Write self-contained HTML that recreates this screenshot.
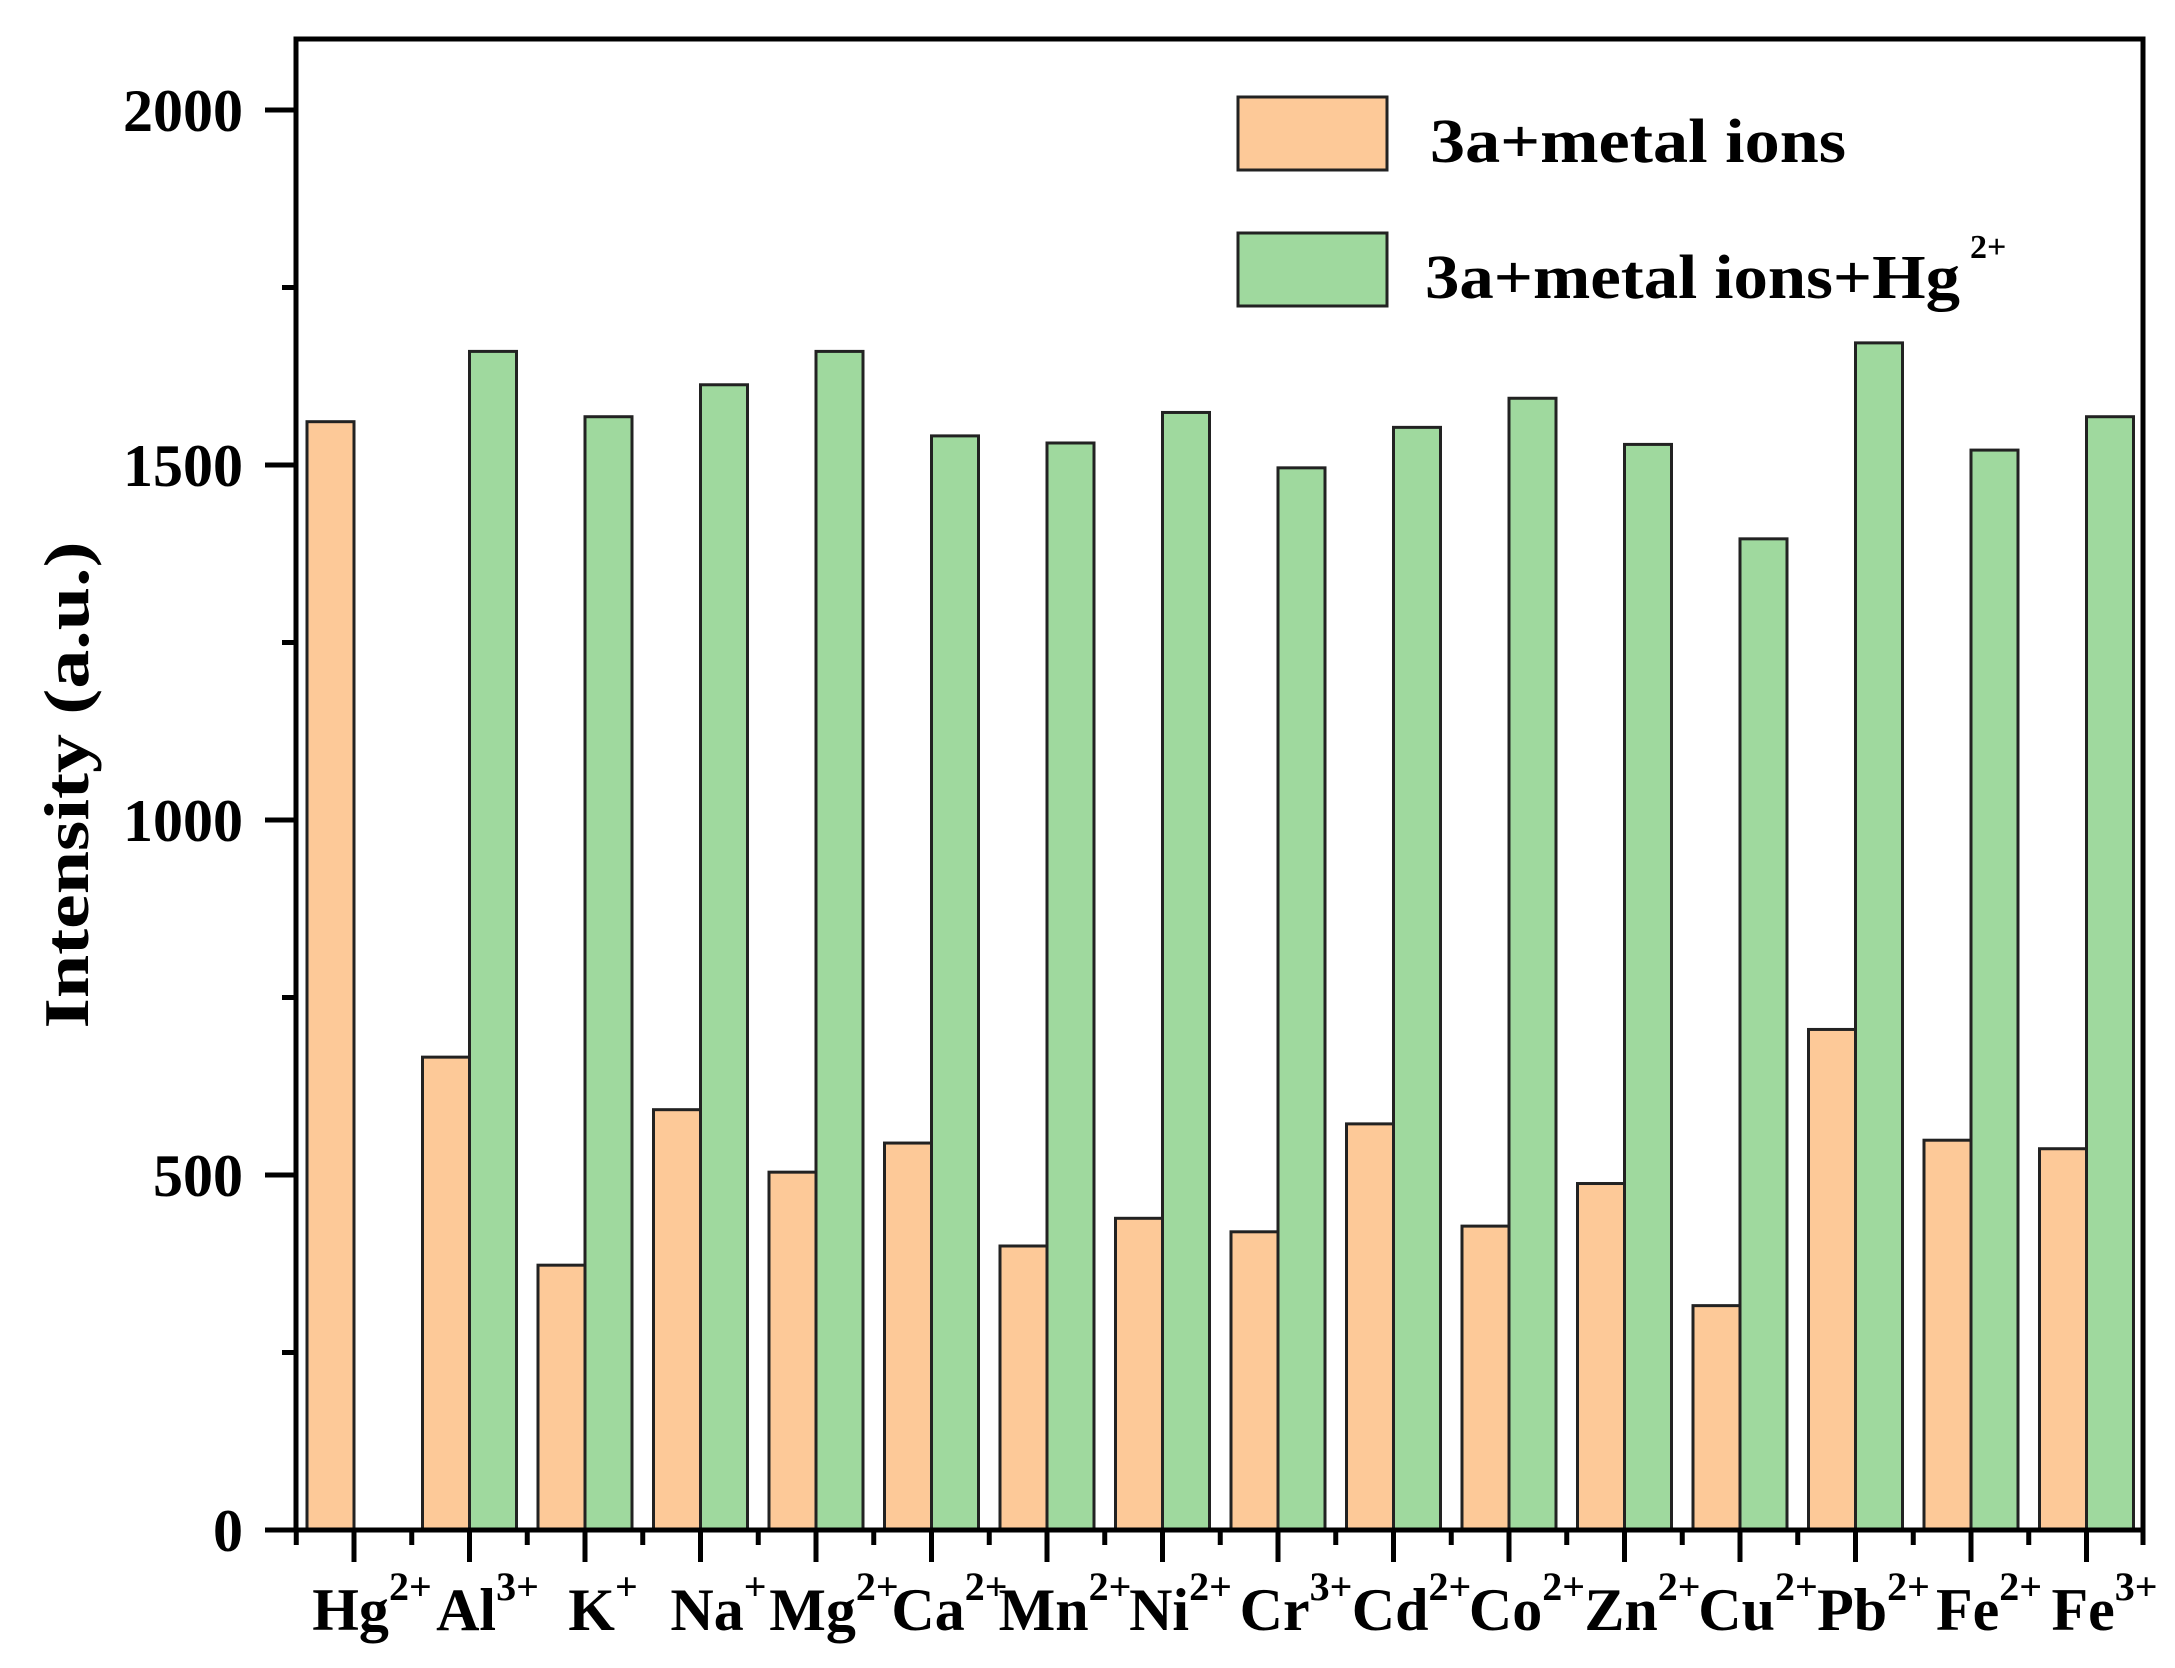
<!DOCTYPE html>
<html><head><meta charset="utf-8"><style>
html,body{margin:0;padding:0;background:#fff;}
svg{display:block;}
text{font-family:"Liberation Serif",serif;font-weight:bold;fill:#000;}
</style></head><body>
<svg width="2175" height="1668" viewBox="0 0 2175 1668" xmlns="http://www.w3.org/2000/svg">
<g id="bars" stroke="#222" stroke-width="3"></g>
<rect x="296" y="39" width="1847" height="1491" fill="none" stroke="#000" stroke-width="5"/>
<g id="ticks" stroke="#000" stroke-width="5"></g>
<g font-size="60" text-anchor="end">
<text x="243" y="131">2000</text>
<text x="243" y="486">1500</text>
<text x="243" y="841">1000</text>
<text x="243" y="1196">500</text>
<text x="243" y="1551">0</text>
</g>
<text transform="translate(88,785) rotate(-90)" font-size="64" text-anchor="middle" textLength="487" lengthAdjust="spacingAndGlyphs">Intensity (a.u.)</text>
<rect x="1238" y="97" width="149" height="73" fill="#FDC998" stroke="#222" stroke-width="3"/>
<rect x="1238" y="233" width="149" height="73" fill="#9FD99E" stroke="#222" stroke-width="3"/>
<text x="1430" y="162" font-size="62" textLength="416" lengthAdjust="spacingAndGlyphs">3a+metal ions</text>
<text x="1425" y="298" font-size="62" textLength="535" lengthAdjust="spacingAndGlyphs">3a+metal ions+Hg</text>
<text x="1970" y="258" font-size="34">2+</text>
<g id="xl" font-size="60" text-anchor="middle"></g>
</svg>
<script>
var ns="http://www.w3.org/2000/svg";
var o=[1561,666,373,592,504,545,400,439,420,572,428,488,316,705,549,537];
var g=[0,1660,1568,1613,1660,1541,1531,1574,1496,1553,1594,1529,1396,1672,1521,1568];
var L=[["Hg","2+"],["Al","3+"],["K","+"],["Na","+"],["Mg","2+"],["Ca","2+"],["Mn","2+"],["Ni","2+"],["Cr","3+"],["Cd","2+"],["Co","2+"],["Zn","2+"],["Cu","2+"],["Pb","2+"],["Fe","2+"],["Fe","3+"]];
var B=document.getElementById("bars"),T=document.getElementById("ticks"),X=document.getElementById("xl");
function el(p,n,a){var e=document.createElementNS(ns,n);for(var k in a)e.setAttribute(k,a[k]);p.appendChild(e);return e;}
for(var i=0;i<16;i++){
 var c=354+i*115.5;
 var h=o[i]*0.71; el(B,"rect",{x:c-47,y:1530-h,width:47,height:h,fill:"#FDC998"});
 if(g[i]){h=g[i]*0.71; el(B,"rect",{x:c,y:1530-h,width:47,height:h,fill:"#9FD99E"});}
 el(T,"line",{x1:c,y1:1530,x2:c,y2:1562});
 el(T,"line",{x1:c-57.75,y1:1530,x2:c-57.75,y2:1545});
 var t=el(X,"text",{x:c+18,y:1630});
 t.appendChild(document.createTextNode(L[i][0]));
 var s=el(t,"tspan",{"font-size":"40",dy:"-30"});s.textContent=L[i][1];
}
el(T,"line",{x1:2143,y1:1530,x2:2143,y2:1545});
for(var v=0;v<=2000;v+=250){var y=1530-v*0.71;el(T,"line",{x1:296,y1:y,x2:(v%500==0)?265:282,y2:y});}
</script>
</body></html>
